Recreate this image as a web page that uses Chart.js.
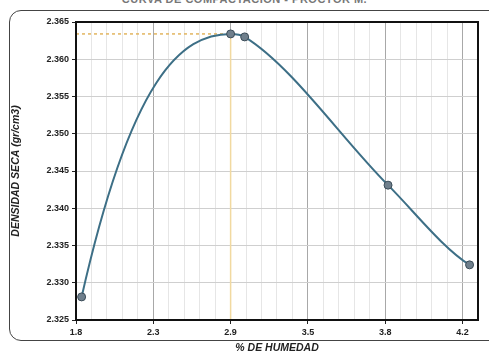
<!DOCTYPE html>
<html>
<head>
<meta charset="utf-8">
<script src="https://cdn.jsdelivr.net/npm/chart.js@4/dist/chart.umd.min.js"></script>
<style>
  html, body { margin: 0; padding: 0; background: #fff; }
  #wrap { position: relative; width: 489px; height: 358px; overflow: hidden; }
  #frame { position: absolute; left: 9px; top: 10px; width: 500px; height: 331px;
           border: 1.5px solid #444; border-radius: 12px; box-sizing: border-box; }
  #title { position: absolute; left: 0; width: 489px; top: -7px; text-align: center;
           font: bold 11px "Liberation Sans", Arial, sans-serif; color: #777; letter-spacing: 0.5px; }
  canvas { position: absolute; left: 0; top: 0; }
</style>
</head>
<body>
<div id="wrap">
  <div id="title">CURVA DE COMPACTACIÓN - PROCTOR M.</div>
  <div id="frame"></div>
  <canvas id="chart" width="489" height="358"></canvas>
</div>
<script>
/*****************************  Data  *******************************/
var humedad  = [1.84, 2.90, 3.00, 4.02, 4.60];
var densidad = [2.3281, 2.3634, 2.3630, 2.3431, 2.3324];
var xTickLabels = ['1.8', '2.3', '2.9', '3.5', '3.8', '4.2'];
var xMin = 1.8, xStep = 0.55, xMax = 4.66;
var yMin = 2.325, yMax = 2.365, yStep = 0.005;

// punto maximo (densidad seca maxima / humedad optima)
var iMax = densidad.indexOf(Math.max.apply(null, densidad));
var dMax = densidad[iMax], wOpt = humedad[iMax];

var curva = humedad.map(function(w, i) { return {x: w, y: densidad[i]}; });

var tickFont = {family: '"Liberation Sans", Arial, sans-serif', size: 9, weight: 'bold'};
var titleFont = {family: '"Liberation Sans", Arial, sans-serif', size: 10.5, weight: 'bold', style: 'italic'};

// ticks del eje x desde xMin con paso xStep
function xTicks(div) {
    var t = [];
    for (var v = xMin; v <= xMax + 1e-9; v += xStep / div) t.push({value: v});
    return t;
}

// marco negro del area de grafico
var framePlugin = {
    id: 'frame',
    afterDraw: function(chart) {
        var a = chart.chartArea, ctx = chart.ctx;
        ctx.save();
        ctx.strokeStyle = '#111';
        ctx.lineWidth = 2;
        ctx.strokeRect(a.left, a.top, a.right - a.left, a.bottom - a.top);
        ctx.restore();
    }
};

// suavizado de los extremos (como la linea de tendencia de Excel)
var startBend = 2.5, endBend = 0.65;
var endsPlugin = {
    id: 'ends',
    beforeDatasetDraw: function(chart, args) {
        if (args.index !== 0) return;
        var line = args.meta.dataset, pts = args.meta.data;
        line.updateControlPoints(chart.chartArea);
        var a = pts[0], b = pts[1];
        a.cp2x = a.x + (b.x - a.x) / 3;
        a.cp2y = a.y + startBend * (b.y - a.y) / 3;
        var c = pts[pts.length - 2], d = pts[pts.length - 1];
        d.cp1x = d.x - (d.x - c.x) / 3;
        d.cp1y = d.y - endBend * (d.y - c.y) / 3;
        delete line._path;
    }
};

var ctx = document.getElementById('chart');
new Chart(ctx, {
    type: 'scatter',
    data: {
        datasets: [{
            label: 'Curva',
            data: curva,
            showLine: true,
            cubicInterpolationMode: 'monotone',
            borderColor: '#3d6f86',
            borderWidth: 2,
            pointRadius: 4,
            pointBackgroundColor: '#6f7f8c',
            pointBorderColor: '#3b4c58',
            pointBorderWidth: 1,
            order: 1
        }, {
            label: 'hmax',
            data: [{x: xMin, y: dMax}, {x: wOpt, y: dMax}],
            showLine: true,
            borderColor: '#e2b560',
            borderWidth: 1.5,
            borderDash: [3, 3],
            pointRadius: 0,
            order: 2
        }, {
            label: 'vopt',
            data: [{x: wOpt, y: yMin}, {x: wOpt, y: dMax}],
            showLine: true,
            borderColor: '#f1d9a0',
            borderWidth: 1.5,
            pointRadius: 0,
            order: 2
        }]
    },
    options: {
        responsive: false,
        animation: false,
        layout: {padding: {left: 10, right: 11, top: 22, bottom: 4}},
        plugins: {legend: {display: false}, tooltip: {enabled: false}},
        scales: {
            xMinor: {
                type: 'linear', position: 'bottom', display: true,
                min: xMin, max: xMax,
                ticks: {display: false},
                afterBuildTicks: function(s) { s.ticks = xTicks(5); },
                grid: {color: '#e6e6e6', lineWidth: 1, drawTicks: false},
                border: {display: false},
                afterFit: function(s) { s.height = 0; }
            },
            x: {
                type: 'linear', min: xMin, max: xMax,
                ticks: {
                    color: '#222', font: tickFont, padding: 3, maxRotation: 0,
                    callback: function(v, i) { return xTickLabels[i] !== undefined ? xTickLabels[i] : ''; }
                },
                afterBuildTicks: function(s) { s.ticks = xTicks(1); },
                grid: {color: '#a8a8a8', lineWidth: 1, tickLength: 4, tickColor: '#222'},
                border: {display: false},
                title: {display: true, text: '% DE HUMEDAD', color: '#222', font: titleFont, padding: {top: 0, bottom: 0}},
                afterFit: function(s) { s.height = 34; }
            },
            y: {
                type: 'linear', min: yMin, max: yMax,
                ticks: {
                    stepSize: yStep, color: '#222', font: tickFont, padding: 3,
                    callback: function(v) { return v.toFixed(3); }
                },
                grid: {color: '#cfcfcf', lineWidth: 1, tickLength: 4, tickColor: '#222'},
                border: {display: false},
                title: {display: true, text: 'DENSIDAD SECA (gr/cm3)', color: '#222', font: titleFont, padding: {top: 0, bottom: 2}},
                afterFit: function(s) { s.width = 66; }
            }
        }
    },
    plugins: [framePlugin, endsPlugin]
});
</script>
</body>
</html>
